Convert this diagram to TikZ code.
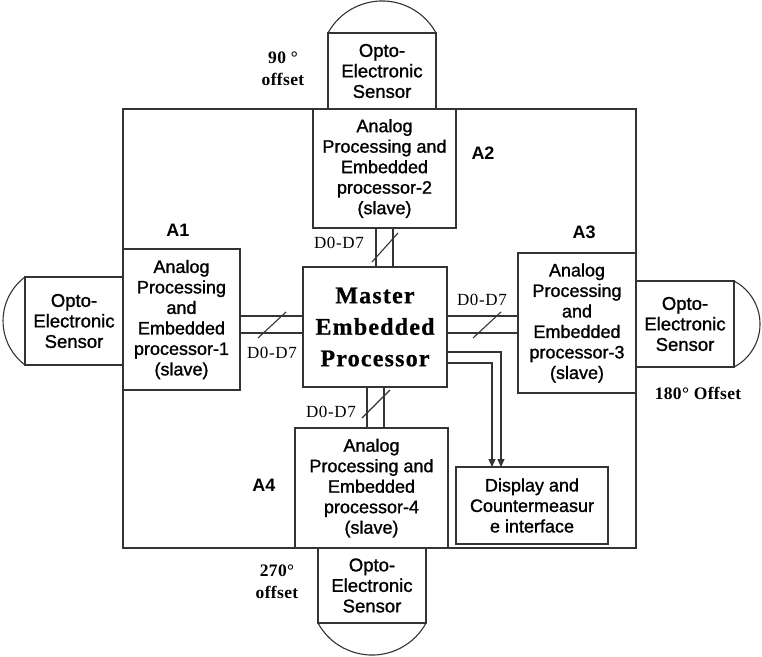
\documentclass[tikz,border=0pt]{standalone}
\usepackage{fontspec}
\setmainfont{Liberation Serif}
\setsansfont{Liberation Sans}
\newfontfamily\boxfont[FakeBold=1.2]{Liberation Sans}
\newfontfamily\mastfont[LetterSpace=5,FakeBold=0.8]{Liberation Serif}
\newfontfamily\labfont[LetterSpace=4]{Liberation Serif}
\newfontfamily\offfont[LetterSpace=2]{Liberation Serif}
\usetikzlibrary{arrows.meta}
\begin{document}
\begin{tikzpicture}[x=1pt,y=-1pt,
  ln/.style={line width=1.1pt, draw=black!80},
  box/.style={ln, rectangle, inner sep=0pt, outer sep=0pt, align=center,
    font=\boxfont\fontsize{18}{20.5}\selectfont},
  sbox/.style={box, font=\boxfont\fontsize{18.5}{20.5}\selectfont},
  alab/.style={font=\sffamily\bfseries\fontsize{18}{20}\selectfont, inner sep=0pt},
  dlab/.style={font=\labfont\fontsize{17}{18}\selectfont, inner sep=0pt},
  olab/.style={font=\offfont\bfseries\fontsize{17.5}{22}\selectfont, align=center, inner sep=0pt},
  arr/.style={ln, -{Triangle[length=8pt,width=7pt]}},
]
\useasboundingbox (0,0) rectangle (762,656);
% outer frame
\draw[ln] (123,109) rectangle (636,548);
% boxes
\node[box, minimum width=143pt, minimum height=119pt] (a2) at (384.5,168.5) {Analog\\Processing and\\Embedded\\processor-2\\(slave)};
\node[box, minimum width=117pt, minimum height=141pt] (a1) at (181.5,319.5) {Analog\\Processing\\and\\Embedded\\processor-1\\(slave)};
\node[box, minimum width=118pt, minimum height=140pt] (a3) at (577,323) {Analog\\Processing\\and\\Embedded\\processor-3\\(slave)};
\node[box, minimum width=153pt, minimum height=120pt] (a4) at (371.5,488) {Analog\\Processing and\\Embedded\\processor-4\\(slave)};
\node[box, minimum width=144pt, minimum height=120pt,
  font=\mastfont\bfseries\fontsize{24}{31.5}\selectfont] (master) at (375,327) {Master\\Embedded\\Processor};
\node[box, minimum width=152pt, minimum height=77pt] (disp) at (532,505.5) {Display and\\Countermeasur\\e interface};
% sensors
\node[sbox, minimum width=108pt, minimum height=76pt] (s2) at (382,71) {Opto-\\Electronic\\Sensor};
\node[sbox, minimum width=98pt, minimum height=88pt] (s1) at (74,321) {Opto-\\Electronic\\Sensor};
\node[sbox, minimum width=98pt, minimum height=86pt] (s3) at (685,324) {Opto-\\Electronic\\Sensor};
\node[sbox, minimum width=108pt, minimum height=75pt] (s4) at (372,585.5) {Opto-\\Electronic\\Sensor};
% lenses
\draw[ln] (s2.north west) arc[start angle=208.7, end angle=331.3, radius=61.6];
\draw[ln] (s1.north west) arc[start angle=233.1, end angle=126.9, radius=55];
\draw[ln] (s3.north east) arc[start angle=-62.3, end angle=62.3, radius=48.6];
\draw[ln] (s4.south west) arc[start angle=151.3, end angle=28.7, radius=61.6];
% top bus
\draw[ln] ([xshift=-8.5pt]a2.south) coordinate (t1) -- (t1 |- master.north);
\draw[ln] ([xshift=8.5pt]a2.south) coordinate (t2) -- (t2 |- master.north);
\draw[ln] (372,262) -- (398,233);
\node[dlab] (dt) at (339,243) {D0-D7};
% bottom bus
\draw[ln] ([xshift=-8pt]master.south) coordinate (b1) -- (b1 |- a4.north);
\draw[ln] ([xshift=9pt]master.south) coordinate (b2) -- (b2 |- a4.north);
\draw[ln] (362,418) -- (390,390);
\node[dlab] (db) at (331,412) {D0-D7};
% left bus
\draw[ln] ([yshift=11pt]master.west) coordinate (l1) -- (l1 -| a1.east);
\draw[ln] ([yshift=-6pt]master.west) coordinate (l2) -- (l2 -| a1.east);
\draw[ln] (258,338) -- (286,312);
\node[dlab] (dl) at (272,353) {D0-D7};
% right bus
\draw[ln] ([yshift=11pt]master.east) coordinate (r1) -- (r1 -| a3.west);
\draw[ln] ([yshift=-6pt]master.east) coordinate (r2) -- (r2 -| a3.west);
\draw[ln] (473,338) -- (501,312);
\node[dlab] (dr) at (482,300) {D0-D7};
% to display
\draw[arr] ([yshift=-25pt]master.east) -| ([xshift=-31pt]disp.north);
\draw[arr] ([yshift=-36pt]master.east) -| ([xshift=-40pt]disp.north);
% labels
\node[alab] (la1) at (178,230) {A1};
\node[alab] (la2) at (483,153) {A2};
\node[alab] (la3) at (584,232) {A3};
\node[alab] (la4) at (264,485) {A4};
\node[olab] (o90) at (283,69) {90 °\\offset};
\node[olab] (o270) at (277,582) {270°\\offset};
\node[olab] (o180) at (698,393) {180° Offset};
\end{tikzpicture}
\end{document}
